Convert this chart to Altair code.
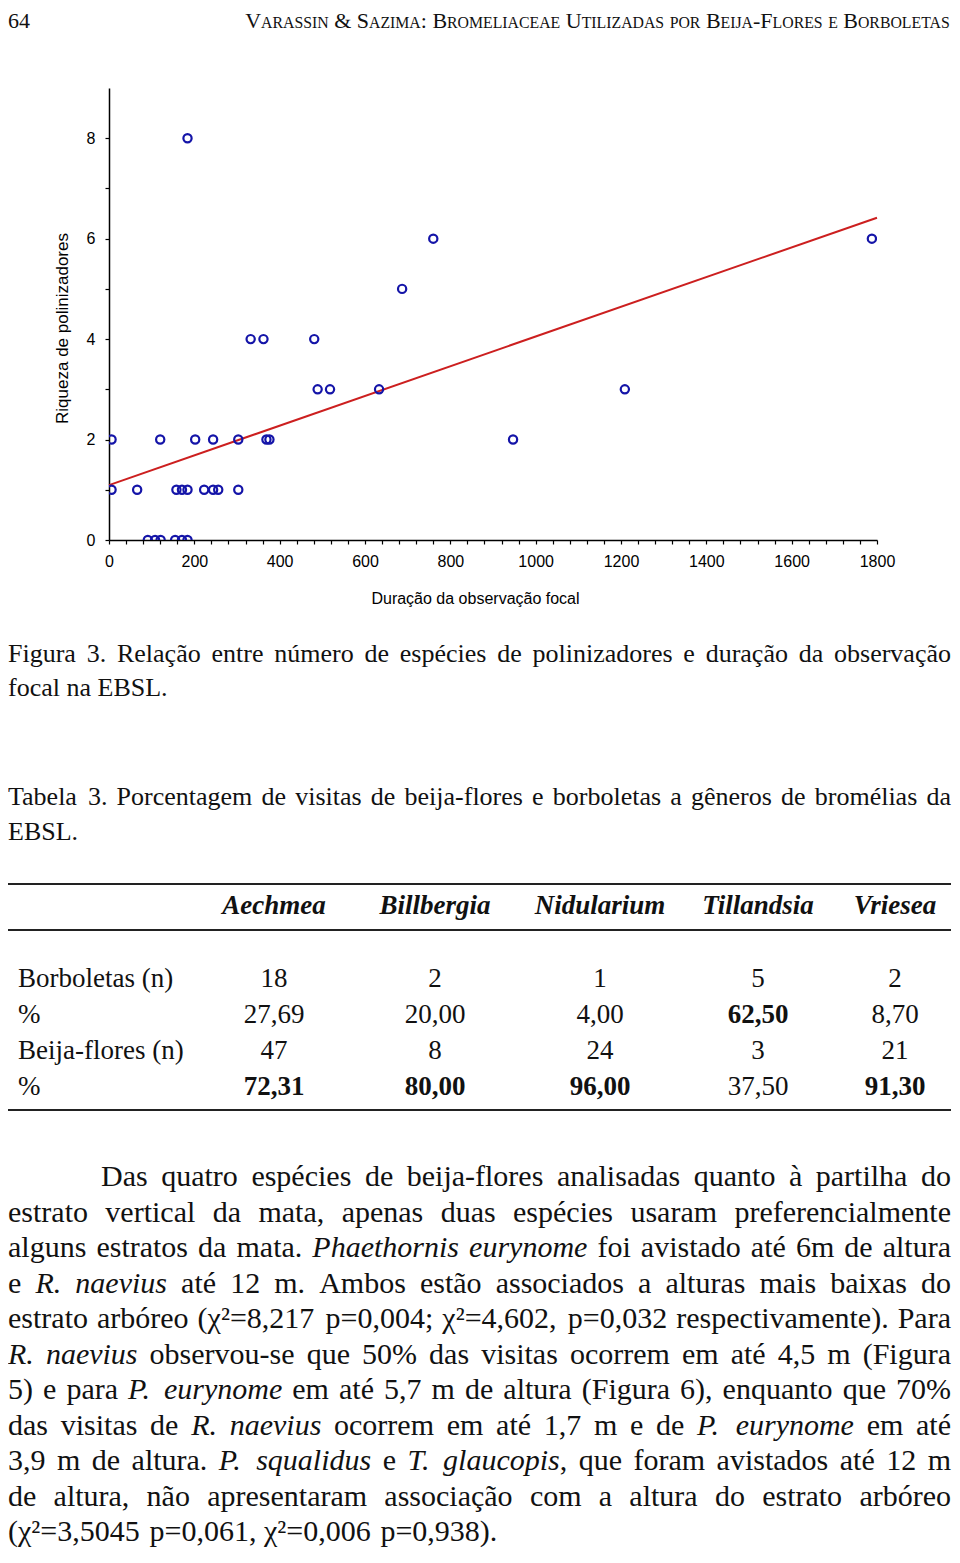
import unicodedata
import altair as alt
import pandas as pd

# ------------------------------------------------------------------ data
duracao = [184, 760, 1788, 687, 332, 362, 481, 489, 518, 633, 1209,
           6, 120, 202, 244, 303, 369, 376, 947,
           6, 66, 158, 171, 184, 223, 244, 256, 303,
           91, 108, 121, 155, 171, 184]
riqueza = [8, 6, 6, 5, 4, 4, 4, 3, 3, 3, 3,
           2, 2, 2, 2, 2, 2, 2, 2,
           1, 1, 1, 1, 1, 1, 1, 1, 1,
           0, 0, 0, 0, 0, 0]
x_ticks = list(range(0, 1801, 40))
y_ticks = list(range(0, 9))

page_number = "64"
running_head = "Varassin & Sazima: Bromeliaceae Utilizadas por Beija-Flores e Borboletas"

fig_caption = ["Figura 3. Relação entre número de espécies de polinizadores e duração da observação",
               "focal na EBSL."]
tab_caption = ["Tabela 3. Porcentagem de visitas de beija-flores e borboletas a gêneros de bromélias da",
               "EBSL."]

genera = ["Aechmea", "Billbergia", "Nidularium", "Tillandsia", "Vriesea"]
row_labels = ["Borboletas (n)", "%", "Beija-flores (n)", "%"]
borboletas_n = [18, 2, 1, 5, 2]
borboletas_pct = [27.69, 20.00, 4.00, 62.50, 8.70]
beija_n = [47, 8, 24, 3, 21]
beija_pct = [72.31, 80.00, 96.00, 37.50, 91.30]

para_lines = [
    "Das quatro espécies de beija-flores analisadas quanto à partilha do",
    "estrato vertical da mata, apenas duas espécies usaram preferencialmente",
    "alguns estratos da mata. *Phaethornis eurynome* foi avistado até 6m de altura",
    "e *R. naevius* até 12 m. Ambos estão associados a alturas mais baixas do",
    "estrato arbóreo (χ²=8,217 p=0,004; χ²=4,602, p=0,032 respectivamente). Para",
    "*R. naevius* observou-se que 50% das visitas ocorrem em até 4,5 m (Figura",
    "5) e para *P. eurynome* em até 5,7 m de altura (Figura 6), enquanto que 70%",
    "das visitas de *R. naevius* ocorrem em até 1,7 m e de *P. eurynome* em até",
    "3,9 m de altura. *P. squalidus* e *T. glaucopis*, que foram avistados até 12 m",
    "de altura, não apresentaram associação com a altura do estrato arbóreo",
    "(χ²=3,5045 p=0,061, χ²=0,006 p=0,938).",
]

# ------------------------------------------------------------------ layout helpers
SERIF = "Liberation Serif"
SANS = "Liberation Sans"
OX, OY = 109, 88          # page position of the plot origin
PW, PH = 768, 452          # plot area
SVG_W, SVG_H = 944, 1540

ROMAN = {}
ROMAN.update(zip("abcdefghijklmnopqrstuvwxyz",
                 [444, 500, 444, 500, 444, 333, 500, 500, 278, 278, 500, 278, 778,
                  500, 500, 500, 500, 333, 389, 278, 500, 500, 722, 500, 500, 444]))
ROMAN.update(zip("ABCDEFGHIJKLMNOPQRSTUVWXYZ",
                 [722, 667, 667, 722, 611, 556, 722, 722, 333, 389, 722, 611, 889,
                  722, 722, 556, 722, 667, 556, 611, 722, 722, 944, 722, 722, 611]))
ROMAN.update({d: 500 for d in "0123456789"})
ROMAN.update({" ": 250, ".": 250, ",": 250, ";": 278, ":": 278, "(": 333, ")": 333,
              "-": 333, "%": 833, "=": 564, "&": 778, "χ": 520, "²": 300})
ITALIC = dict(ROMAN)
ITALIC.update(zip("abcdefghijklmnopqrstuvwxyz",
                  [500, 500, 444, 500, 444, 278, 500, 500, 278, 278, 444, 278, 722,
                   500, 500, 500, 500, 389, 389, 278, 500, 444, 667, 444, 444, 389]))
ITALIC.update(zip("ABCDEFGHIJKLMNOPQRSTUVWXYZ",
                  [611, 611, 667, 722, 611, 611, 722, 722, 333, 444, 667, 556, 833,
                   667, 722, 611, 722, 611, 500, 556, 722, 611, 833, 611, 556, 556]))


def tw(text, italic, size):
    tab = ITALIC if italic else ROMAN
    total = 0
    for ch in text:
        total += tab.get(ch, tab.get(unicodedata.normalize("NFD", ch)[0], 500))
    return total * size / 1000.0


records = []


def add(text, x, y, size, style="normal", weight="normal", align="left", font=SERIF):
    records.append(dict(text=str(text), x=x - OX, y=y - OY, size=size,
                        style=style, weight=weight, align=align, font=font))


def parse_words(line):
    words, italic = [], False
    for raw in line.split():
        runs, cur = [], ""
        for ch in raw:
            if ch == "*":
                if cur:
                    runs.append((cur, italic))
                    cur = ""
                italic = not italic
            else:
                cur += ch
        if cur:
            runs.append((cur, italic))
        words.append(runs)
    return words


def set_line(line, left, right, y, size, justify):
    words = parse_words(line)
    widths = [sum(tw(t, it, size) for t, it in runs) for runs in words]
    if justify and len(words) > 1:
        gap = (right - left - sum(widths)) / (len(words) - 1)
    else:
        gap = 0.25 * size
    x = left
    for runs, wdt in zip(words, widths):
        xx = x
        for t, it in runs:
            add(t, xx, y, size, style="italic" if it else "normal")
            xx += tw(t, it, size)
        x += wdt + gap


def small_caps(text, right, y, big, small):
    pieces = []
    for ch in text:
        if ch == " ":
            pieces.append([" ", big])
            continue
        sz = small if ch.islower() else big
        t = ch.upper()
        if pieces and pieces[-1][0] != " " and pieces[-1][1] == sz:
            pieces[-1][0] += t
        else:
            pieces.append([t, sz])
    total = sum(tw(t, False, sz) for t, sz in pieces)
    x = right - total
    for t, sz in pieces:
        if t != " ":
            add(t, x, y, sz)
        x += tw(t, False, sz)


LEFT, RIGHT = 8, 951

# running head
add(page_number, LEFT, 28, 22)
small_caps(running_head, RIGHT, 28, 22, 15.8)

# captions
set_line(fig_caption[0], LEFT, RIGHT, 662, 26, True)
set_line(fig_caption[1], LEFT, RIGHT, 696, 26, False)
set_line(tab_caption[0], LEFT, RIGHT, 805, 26, True)
set_line(tab_caption[1], LEFT, RIGHT, 840, 26, False)

# table
col_x = [274, 435, 600, 758, 895]
for g, cx in zip(genera, col_x):
    add(g, cx, 914, 27, style="italic", weight="bold", align="center")
row_y = [987, 1023, 1059, 1095]
for lab, ry in zip(row_labels, row_y):
    add(lab, 18, ry, 27)


def fmt(v):
    return f"{v:.2f}".replace(".", ",")


for i, cx in enumerate(col_x):
    add(borboletas_n[i], cx, row_y[0], 27, align="center")
    add(fmt(borboletas_pct[i]), cx, row_y[1], 27, align="center",
        weight="bold" if borboletas_pct[i] > 50 else "normal")
    add(beija_n[i], cx, row_y[2], 27, align="center")
    add(fmt(beija_pct[i]), cx, row_y[3], 27, align="center",
        weight="bold" if beija_pct[i] > 50 else "normal")

# paragraph
for i, line in enumerate(para_lines):
    y = 1186 + 35.5 * i
    left = 101 if i == 0 else LEFT
    set_line(line, left, RIGHT, y, 30, i < len(para_lines) - 1)

text_df = pd.DataFrame(records)

# ------------------------------------------------------------------ scatter
scatter_df = pd.DataFrame({"dur": duracao, "riq": riqueza})

x_axis = alt.Axis(values=x_ticks, format="d",
                  labelExpr="datum.value % 200 === 0 ? datum.label : ''",
                  grid=False, tickSize=4, tickWidth=1.2, domainWidth=1.5,
                  domainColor="black", tickColor="black",
                  labelFont=SANS, labelFontSize=16, labelColor="black",
                  labelPadding=9, labelFlush=False, labelOverlap=False,
                  title="Duração da observação focal", titleFont=SANS,
                  titleFontSize=16, titleFontWeight="normal", titleColor="black",
                  titleX=366, titleY=58, titleAlign="center", titleBaseline="middle")
y_axis = alt.Axis(values=y_ticks, format="d",
                  labelExpr="datum.value % 2 === 0 ? datum.label : ''",
                  grid=False, tickSize=4, tickWidth=1.2, domainWidth=1.5,
                  domainColor="black", tickColor="black",
                  labelFont=SANS, labelFontSize=16, labelColor="black",
                  labelPadding=10, labelFlush=False, labelOverlap=False,
                  title="Riqueza de polinizadores", titleFont=SANS,
                  titleFontSize=17, titleFontWeight="normal", titleColor="black",
                  titleX=-47, titleY=240, titleAlign="center", titleBaseline="middle",
                  titleAngle=270)

base = alt.Chart(scatter_df).encode(
    x=alt.X("dur:Q", scale=alt.Scale(domain=[0, 1800], nice=False), axis=x_axis),
    y=alt.Y("riq:Q", scale=alt.Scale(domain=[0, 9], nice=False), axis=y_axis),
)
reg_line = base.transform_regression("dur", "riq", extent=[0, 1800]).mark_line(
    color="#cc1f1f", strokeWidth=2)
points = base.mark_point(shape="circle", filled=False, size=68, strokeWidth=2.2,
                         color="#1414a8", opacity=1, clip=True)
scatter = alt.layer(reg_line, points)

# ------------------------------------------------------------------ text layers
text_layers = []
for (style, weight, align, font), sub in text_df.groupby(["style", "weight", "align", "font"]):
    text_layers.append(
        alt.Chart(sub).mark_text(align=align, baseline="alphabetic", font=font,
                                 fontStyle=style, fontWeight=weight, color="#111111")
        .encode(x=alt.X("x:Q", scale=None, axis=None),
                y=alt.Y("y:Q", scale=None, axis=None),
                text="text:N",
                size=alt.Size("size:Q", scale=None, legend=None))
    )

rules_df = pd.DataFrame({"y": [884 - OY, 930 - OY, 1110 - OY]})
rules = alt.Chart(rules_df).mark_rule(color="#222222", strokeWidth=2).encode(
    y=alt.Y("y:Q", scale=None, axis=None),
    x=alt.value(LEFT - OX), x2=alt.value(RIGHT - OX))

chart = alt.layer(scatter, rules, *text_layers).resolve_scale(
    x="independent", y="independent", size="independent"
).properties(
    width=PW, height=PH,
    autosize=alt.AutoSizeParams(type="none"),
    padding={"left": OX - 8, "top": OY - 8,
             "right": SVG_W - (OX - 8) - PW, "bottom": SVG_H - (OY - 8) - PH},
    background="white",
).configure_view(stroke=None)

chart.save("out.html", embed_options={"renderer": "svg", "actions": False})
